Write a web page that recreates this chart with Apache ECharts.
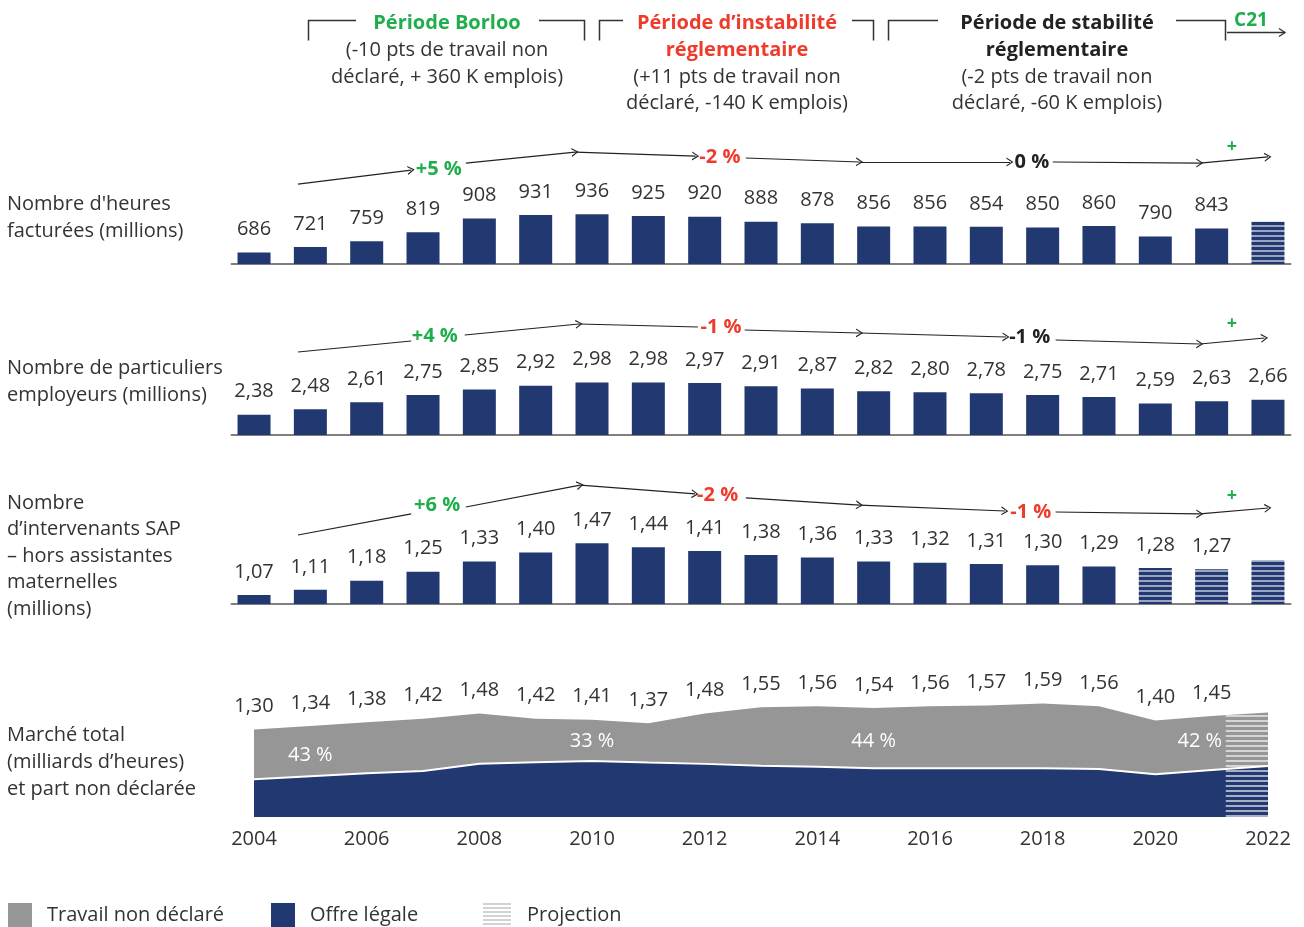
<!DOCTYPE html>
<html>
<head>
<meta charset="utf-8">
<script src="https://cdn.jsdelivr.net/npm/echarts@6/dist/echarts.min.js"></script>
<style>html,body{margin:0;padding:0;background:#fff}#c{width:1304px;height:927px}</style>
</head>
<body>
<div id="c"></div>
<script>
// ---------- DATA ----------
const years = [2004,2005,2006,2007,2008,2009,2010,2011,2012,2013,2014,2015,2016,2017,2018,2019,2020,2021,2022];
const hoursBilled = [686,721,759,819,908,931,936,925,920,888,878,856,856,854,850,860,790,843,888];
const employers = [2.38,2.48,2.61,2.75,2.85,2.92,2.98,2.98,2.97,2.91,2.87,2.82,2.80,2.78,2.75,2.71,2.59,2.63,2.66];
const workers = [1.07,1.11,1.18,1.25,1.33,1.40,1.47,1.44,1.41,1.38,1.36,1.33,1.32,1.31,1.30,1.29,1.28,1.27,1.34];
const totalMarket = [1.30,1.34,1.38,1.42,1.48,1.42,1.41,1.37,1.48,1.55,1.56,1.54,1.56,1.57,1.59,1.56,1.40,1.45,1.49];
const legalMarket = [0.742,0.776,0.809,0.835,0.917,0.933,0.947,0.930,0.915,0.894,0.883,0.865,0.865,0.865,0.865,0.858,0.798,0.846,0.891];
const projectedHoursYears = [2022];
const projectedWorkersYears = [2020,2021,2022];
const unlabeledHoursYears = [2022];
const unlabeledWorkersYears = [2022];
const unlabeledTotalYears = [2022];
const projectionStart = 2021.25;
const undeclaredShares = [['43 %',2005,1.014],['33 %',2010,1.163],['44 %',2015,1.171],['42 %',2020.79,1.171]];
const legendNames = ['Travail non déclaré', 'Offre légale', 'Projection'];

// trend annotations: [x1,y1,x2,y2,arrowhead]
const trendHoursSegs = [[2004.78,1135,2006.79,1227,1],[2007.76,1273,2009.70,1345,1],[2009.70,1345,2011.84,1319,1],[2012.73,1306,2014.75,1280,1],[2014.75,1280,2017.42,1280,1],[2018.18,1280,2020.79,1273,1],[2020.79,1273,2022.0,1313,1]];
const trendHoursNotes = [['+5 %',2007.28,1234,'g'],['-2 %',2012.27,1313,'r'],['0 %',2017.81,1280,'k'],['+',2021.36,1378,'g']];
const trendEmpSegs = [[2004.78,3.551,2006.79,3.757,0],[2007.74,3.869,2009.77,4.075,1],[2009.77,4.075,2011.88,4.019,0],[2012.71,3.963,2014.75,3.907,1],[2014.75,3.907,2017.35,3.832,1],[2018.23,3.776,2020.79,3.701,1],[2020.79,3.701,2021.94,3.813,1]];
const trendEmpNotes = [['+4 %',2007.21,3.850,'g'],['-1 %',2012.29,4.019,'r'],['-1 %',2017.77,3.832,'k'],['+',2021.36,4.075,'g']];
const trendWorkSegs = [[2004.78,1.535,2006.79,1.698,0],[2007.76,1.752,2009.79,1.922,1],[2009.79,1.922,2011.83,1.853,1],[2012.73,1.822,2014.75,1.767,1],[2014.75,1.767,2017.33,1.721,1],[2018.23,1.713,2020.79,1.698,1],[2020.79,1.698,2022.0,1.744,1]];
const trendWorkNotes = [['+6 %',2007.25,1.767,'g'],['-2 %',2012.23,1.845,'r'],['-1 %',2017.79,1.713,'r'],['+',2021.36,1.837,'g']];

// ---------- STYLE ----------
const FONT = '"Open Sans", "Noto Sans", sans-serif';
const NAVY = '#223870';
const GREY = '#969696';
const TXT = '#333333';
const COLORS = {g:'#1fae4b', r:'#ef3b2c', k:'#222222'};
const ARROW = 'path://M0,10 L5,0 L10,10 L8.5,10 L5,2.8 L1.5,10 Z';

function stripeCanvas(w, period, thick, bg, fg) {
  const c = document.createElement('canvas');
  c.width = w; c.height = period;
  const g = c.getContext('2d');
  if (bg) { g.fillStyle = bg; g.fillRect(0, 0, w, period); }
  g.fillStyle = fg; g.fillRect(0, 0, w, thick);
  return c;
}
const hatchBar = {image: stripeCanvas(8, 5, 2, NAVY, '#9aa4c0'), repeat: 'repeat'};
const hatchArea = {image: stripeCanvas(8, 5, 2, null, 'rgba(255,255,255,0.6)'), repeat: 'repeat'};
const legendIcon = (function(){
  const c = document.createElement('canvas'); c.width = 28; c.height = 24;
  const g = c.getContext('2d');
  for (let y = 0; y < 24; y += 4) { g.fillStyle = '#d2d2d2'; g.fillRect(0, y, 28, 2); }
  return 'image://' + c.toDataURL();
})();

const fmt = (v, d) => d === 0 ? String(Math.round(v)) : v.toFixed(d).replace('.', ',');

function trendMarkers(segs, notes) {
  return {
    markLine: {
      silent: true, animation: false,
      symbol: ['none', ARROW], symbolSize: [9, 7],
      label: {show: false},
      emphasis: {disabled: true},
      lineStyle: {color: '#222', width: 1.2, type: 'solid'},
      data: segs.map(s => [
        {coord: [s[0], s[1]], symbol: 'none'},
        {coord: [s[2], s[3]], symbol: s[4] ? ARROW : 'none'}
      ])
    },
    markPoint: {
      silent: true, animation: false,
      symbol: 'circle', symbolSize: 1,
      itemStyle: {color: 'rgba(0,0,0,0)'},
      label: {show: true, position: 'inside', formatter: '{b}', fontFamily: FONT, fontWeight: 'bold', fontSize: 20},
      data: notes.map(n => ({
        name: n[0], coord: [n[1], n[2]],
        label: {color: COLORS[n[3]], fontSize: n[0] === '+' ? 18 : 20}
      }))
    }
  };
}

function barSeries(idx, name, vals, dec, hatchYears, noLabelYears, segs, notes) {
  return Object.assign({
    type: 'bar', name: name, xAxisIndex: idx, yAxisIndex: idx,
    barWidth: 33, silent: true, animation: false,
    itemStyle: {color: NAVY},
    label: {show: true, position: 'top', distance: 13, fontFamily: FONT, fontSize: 20, color: TXT,
            formatter: p => fmt(p.value[1], dec)},
    data: years.map((y, i) => {
      const d = {value: [y, vals[i]]};
      if (hatchYears.includes(y)) d.itemStyle = {color: hatchBar};
      if (noLabelYears.includes(y)) d.label = {show: false};
      return d;
    })
  }, trendMarkers(segs, notes));
}

const barX = () => ({
  type: 'value', min: 2003.6, max: 2022.4,
  axisLabel: {show: false}, axisTick: {show: false}, splitLine: {show: false},
  axisLine: {show: true, onZero: false, lineStyle: {color: '#7f7f7f', width: 2}}
});

const gridBase = {left: 231.5, width: 1059, outerBoundsMode: 'none', containLabel: false};

function txt(x, y, text, opt) {
  return {type: 'text', x: x, y: y, silent: true,
    style: Object.assign({text: text, fontFamily: FONT, fontSize: 20, fill: TXT,
      align: 'center', verticalAlign: 'middle'}, opt || {})};
}
function poly(points) {
  return {type: 'polyline', silent: true, shape: {points: points},
    style: {stroke: '#333', lineWidth: 1.5, fill: null}};
}

const rowTitles = [
  ["Nombre d'heures\nfacturées (millions)", 191, 27],
  ["Nombre de particuliers\nemployeurs (millions)", 355, 27],
  ["Nombre\nd’intervenants SAP\n– hors assistantes\nmaternelles\n(millions)", 490, 26.4],
  ["Marché total\n(milliards d’heures)\net part non déclarée", 722, 27]
];

const graphics = [];
rowTitles.forEach(r => graphics.push({type: 'text', left: 7, top: r[1], silent: true,
  style: {text: r[0], fontFamily: FONT, fontSize: 20, fill: TXT, lineHeight: r[2]}}));

// header
graphics.push(txt(447, 23, 'Période Borloo', {fill: COLORS.g, fontWeight: 'bold'}));
graphics.push(txt(447, 50, '(-10 pts de travail non'));
graphics.push(txt(447, 77, 'déclaré, + 360 K emplois)'));
graphics.push(txt(737, 23, 'Période d’instabilité', {fill: COLORS.r, fontWeight: 'bold'}));
graphics.push(txt(737, 50, 'réglementaire', {fill: COLORS.r, fontWeight: 'bold'}));
graphics.push(txt(737, 77, '(+11 pts de travail non'));
graphics.push(txt(737, 103, 'déclaré, -140 K emplois)'));
graphics.push(txt(1057, 23, 'Période de stabilité', {fill: '#222', fontWeight: 'bold'}));
graphics.push(txt(1057, 50, 'réglementaire', {fill: '#222', fontWeight: 'bold'}));
graphics.push(txt(1057, 77, '(-2 pts de travail non'));
graphics.push(txt(1057, 103, 'déclaré, -60 K emplois)'));
graphics.push(txt(1251, 21, 'C21', {fill: COLORS.g, fontWeight: 'bold', fontSize: 19}));
// brackets
graphics.push(poly([[308.5,40.5],[308.5,20.5],[356,20.5]]));
graphics.push(poly([[539,20.5],[584.5,20.5],[584.5,40.5]]));
graphics.push(poly([[599.5,40.5],[599.5,20.5],[623,20.5]]));
graphics.push(poly([[852,20.5],[873.5,20.5],[873.5,40.5]]));
graphics.push(poly([[888.5,40.5],[888.5,20.5],[938,20.5]]));
graphics.push(poly([[1176,20.5],[1225.5,20.5],[1225.5,40.5]]));
graphics.push({type: 'line', silent: true, shape: {x1: 1227, y1: 32.5, x2: 1285, y2: 32.5}, style: {stroke: '#333', lineWidth: 1.3}});
graphics.push({type: 'polyline', silent: true, shape: {points: [[1279,28.5],[1285,32.5],[1279,36.5]]}, style: {stroke: '#333', lineWidth: 1.3, fill: null}});

const legendBase = {
  top: 898, itemHeight: 24, selectedMode: false,
  itemStyle: {borderWidth: 0}
};
const legendText = pad => ({fontFamily: FONT, fontSize: 20, color: TXT, padding: [0, 0, 0, pad]});

const option = {
  animation: false,
  backgroundColor: '#ffffff',
  textStyle: {fontFamily: FONT},
  grid: [
    Object.assign({top: 130, height: 134}, gridBase),
    Object.assign({top: 305, height: 130}, gridBase),
    Object.assign({top: 475, height: 129}, gridBase),
    {left: 254, width: 1014, top: 667, height: 150, outerBoundsMode: 'none', containLabel: false}
  ],
  xAxis: [
    Object.assign({gridIndex: 0}, barX()),
    Object.assign({gridIndex: 1}, barX()),
    Object.assign({gridIndex: 2}, barX()),
    {gridIndex: 3, type: 'value', min: 2004, max: 2022, interval: 2,
     axisLine: {show: false}, axisTick: {show: false}, splitLine: {show: false},
     axisLabel: {fontFamily: FONT, fontSize: 20, color: TXT, margin: 12, formatter: v => String(v)}}
  ],
  yAxis: [
    {gridIndex: 0, type: 'value', min: 610, max: 1490, show: false, splitLine: {show: false}},
    {gridIndex: 1, type: 'value', min: 2.0, max: 4.43, show: false, splitLine: {show: false}},
    {gridIndex: 2, type: 'value', min: 1.0, max: 2.0, show: false, splitLine: {show: false}},
    {gridIndex: 3, type: 'value', min: 0.32, max: 2.0, show: false, splitLine: {show: false}}
  ],
  legend: [
    Object.assign({left: 3, itemWidth: 24, textStyle: legendText(10), data: [{name: legendNames[0], icon: 'rect', itemStyle: {color: GREY}}]}, legendBase),
    Object.assign({left: 266, itemWidth: 24, textStyle: legendText(10), data: [{name: legendNames[1], icon: 'rect', itemStyle: {color: NAVY}}]}, legendBase),
    Object.assign({left: 478, itemWidth: 28, textStyle: legendText(11), data: [{name: legendNames[2], icon: legendIcon}]}, legendBase)
  ],
  graphic: graphics,
  series: [
    barSeries(0, 'Heures facturées', hoursBilled, 0, projectedHoursYears, unlabeledHoursYears, trendHoursSegs, trendHoursNotes),
    barSeries(1, 'Particuliers employeurs', employers, 2, [], [], trendEmpSegs, trendEmpNotes),
    barSeries(2, 'Intervenants SAP', workers, 2, projectedWorkersYears, unlabeledWorkersYears, trendWorkSegs, trendWorkNotes),
    {
      type: 'line', name: legendNames[0], xAxisIndex: 3, yAxisIndex: 3,
      silent: true, animation: false, showSymbol: true, symbol: 'circle', symbolSize: 2,
      itemStyle: {color: GREY},
      lineStyle: {width: 0, color: GREY},
      areaStyle: {color: GREY, opacity: 1},
      label: {show: true, position: 'top', distance: 12, fontFamily: FONT, fontSize: 20, color: TXT,
              formatter: p => fmt(p.value[1], 2)},
      data: years.map((y, i) => {
        const d = {value: [y, totalMarket[i]], itemStyle: {color: 'rgba(0,0,0,0)'}};
        if (unlabeledTotalYears.includes(y)) d.label = {show: false};
        return d;
      })
    },
    {
      type: 'line', name: legendNames[1], xAxisIndex: 3, yAxisIndex: 3,
      silent: true, animation: false, showSymbol: false, symbol: 'none',
      itemStyle: {color: NAVY},
      lineStyle: {width: 2, color: '#ffffff'},
      areaStyle: {color: NAVY, opacity: 1},
      data: years.map((y, i) => [y, legalMarket[i]]),
      markPoint: {
        silent: true, animation: false, symbol: 'circle', symbolSize: 1,
        itemStyle: {color: 'rgba(0,0,0,0)'},
        label: {show: true, position: 'inside', formatter: '{b}', fontFamily: FONT, fontSize: 20, color: '#ffffff'},
        data: undeclaredShares.map(s => ({name: s[0], coord: [s[1], s[2]]}))
      },
      markArea: {
        silent: true, animation: false, z: 5,
        itemStyle: {color: hatchArea, opacity: 1, borderWidth: 0},
        label: {show: false},
        data: [[{xAxis: projectionStart, yAxis: 0.32}, {xAxis: 2022, yAxis: totalMarket[totalMarket.length - 1]}]]
      }
    },
    {type: 'line', name: legendNames[2], xAxisIndex: 3, yAxisIndex: 3, data: [], silent: true}
  ]
};

const chart = echarts.init(document.getElementById('c'), null, {renderer: 'canvas'});
chart.setOption(option);
</script>
</body>
</html>
